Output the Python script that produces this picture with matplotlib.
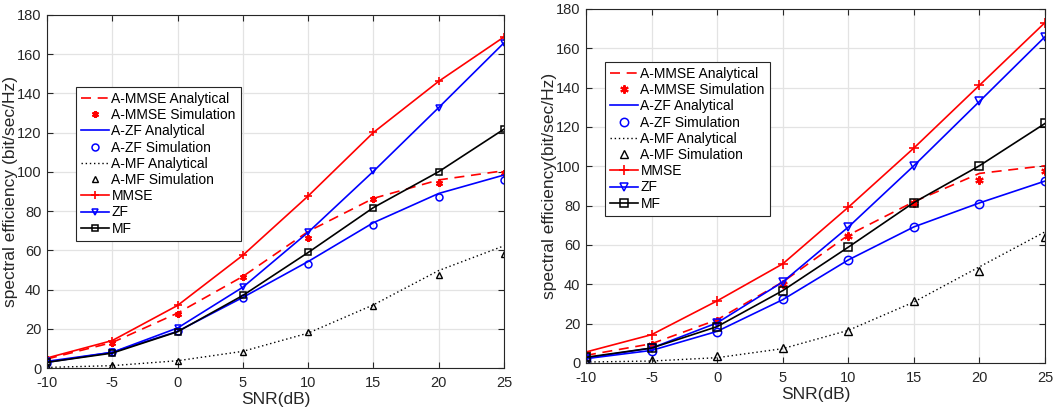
import matplotlib
matplotlib.use('Agg')
import matplotlib.pyplot as plt
import numpy as np

plt.rcParams['font.family'] = ['Liberation Sans', 'DejaVu Sans']
plt.rcParams['axes.unicode_minus'] = False

snr = [-10, -5, 0, 5, 10, 15, 20, 25]

# left panel
l_ammse_ana = [4.6, 13.0, 28.0, 46.7, 69.6, 86.5, 95.9, 100.6]
l_ammse_sim = [4.6, 13.0, 27.5, 46.3, 66.2, 86.0, 94.5, 99.3]
l_azf_ana = [2.9, 8.0, 18.7, 36.0, 54.3, 74.1, 89.0, 98.4]
l_azf_sim = [2.5, 8.0, 18.7, 35.6, 52.9, 73.0, 87.4, 95.7]
l_amf_ana = [0.3, 1.2, 3.7, 8.5, 17.8, 32.2, 49.7, 62.3]
l_amf_sim = [0.8, 1.4, 3.4, 8.1, 18.2, 31.7, 47.3, 58.2]
l_mmse = [5.1, 14.0, 31.9, 57.5, 87.7, 120.1, 146.2, 168.8]
l_zf = [3.4, 8.0, 20.4, 41.2, 69.2, 100.3, 132.8, 165.8]
l_mf = [2.9, 7.6, 18.5, 37.0, 58.9, 81.8, 100.1, 121.8]

# right panel
r_ammse_ana = [3.9, 9.8, 22.0, 41.2, 65.0, 82.0, 96.4, 100.3]
r_ammse_sim = [3.4, 9.0, 21.4, 40.4, 64.6, 81.6, 93.3, 97.7]
r_azf_ana = [2.2, 6.4, 16.1, 32.2, 52.4, 69.2, 81.4, 92.5]
r_azf_sim = [2.2, 5.9, 15.6, 32.4, 52.4, 69.1, 81.1, 92.5]
r_amf_ana = [0.5, 1.0, 2.7, 7.3, 16.6, 31.0, 48.9, 66.7]
r_amf_sim = [0.8, 1.7, 3.4, 7.8, 16.1, 31.6, 46.7, 64.1]
r_mmse = [5.6, 14.4, 31.6, 50.4, 79.2, 109.3, 141.2, 173.1]
r_zf = [2.5, 7.6, 20.4, 41.2, 69.1, 100.3, 133.0, 165.9]
r_mf = [2.9, 7.6, 18.5, 36.8, 58.9, 81.6, 100.3, 121.8]

labels = ['A-MMSE Analytical', 'A-MMSE Simulation', 'A-ZF Analytical', 'A-ZF Simulation',
          'A-MF Analytical', 'A-MF Simulation', 'MMSE', 'ZF', 'MF']

W, H = 1054, 409
fig = plt.figure(figsize=(W / 100, H / 100), dpi=100)


def draw(rect, data, ms, ylabel, leg_xy):
    ax = fig.add_axes(rect)
    ammse_a, ammse_s, azf_a, azf_s, amf_a, amf_s, mmse, zf, mf = data
    ax.plot(snr, ammse_a, color='red', linestyle=(0, (6, 4)), lw=1.2)
    ax.plot(snr, ammse_s, color='red', linestyle='none', marker=(6, 2, 0), ms=ms, mew=1.5)
    ax.plot(snr, azf_a, color='blue', lw=1.2)
    ax.plot(snr, azf_s, color='blue', linestyle='none', marker='o', ms=ms, mfc='none', mew=1.1)
    ax.plot(snr, amf_a, color='black', linestyle=(0, (1, 2)), lw=1.0)
    ax.plot(snr, amf_s, color='black', linestyle='none', marker='^', ms=ms, mfc='none', mew=1.0)
    ax.plot(snr, mmse, color='red', marker='+', ms=ms + 0.5, mew=1.2, lw=1.2)
    ax.plot(snr, zf, color='blue', marker='v', ms=ms, mfc='none', mew=1.1, lw=1.2)
    ax.plot(snr, mf, color='black', marker='s', ms=ms - 0.7, mfc='none', mew=1.1, lw=1.2)

    ax.set_xlim(-10, 25)
    ax.set_ylim(0, 180)
    ax.set_xticks(snr)
    ax.set_yticks(range(0, 181, 20))
    ax.grid(True, color='#e3e3e3', lw=0.9)
    ax.set_axisbelow(True)
    ax.tick_params(direction='in', top=True, right=True, labelsize=10.5,
                   colors='#262626', length=4)
    ax.tick_params(axis='x', pad=6)
    ax.tick_params(axis='y', pad=4)
    for s in ax.spines.values():
        s.set_color('#262626')
        s.set_linewidth(0.8)
    ax.set_xlabel('SNR(dB)', fontsize=12.5, color='#262626', labelpad=1)
    ax.set_ylabel(ylabel, fontsize=12.5, color='#262626', labelpad=-1)

    leg = ax.legend(labels, loc='upper left', bbox_to_anchor=(leg_xy[0] / W, 1 - leg_xy[1] / H),
                    bbox_transform=fig.transFigure, borderaxespad=0, fontsize=10,
                    fancybox=False, framealpha=1, edgecolor='#262626', handlelength=2.0,
                    handletextpad=0.2, labelspacing=0.16, borderpad=0.35)
    leg.get_frame().set_linewidth(0.8)
    return ax


draw([47 / W, 1 - 368 / H, 457 / W, 353 / H],
     [l_ammse_ana, l_ammse_sim, l_azf_ana, l_azf_sim, l_amf_ana, l_amf_sim, l_mmse, l_zf, l_mf],
     5.0, 'spectral efficiency (bit/sec/Hz)', (76, 87))
draw([586 / W, 1 - 363 / H, 459 / W, 354 / H],
     [r_ammse_ana, r_ammse_sim, r_azf_ana, r_azf_sim, r_amf_ana, r_amf_sim, r_mmse, r_zf, r_mf],
     6.0, 'spectral efficiency(bit/sec/Hz)', (605, 62))

fig.savefig('out.png', dpi=100)
